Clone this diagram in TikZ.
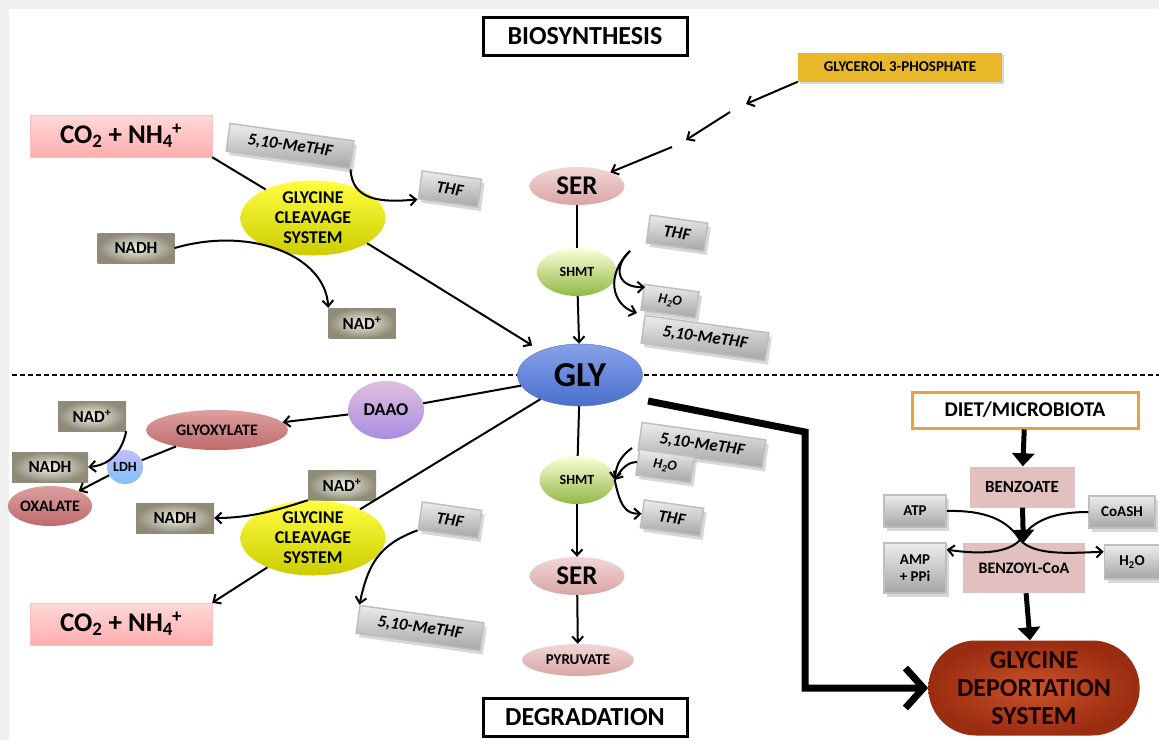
\documentclass[tikz,border=0pt]{standalone}
\usepackage{amsmath}
\usepackage{fontspec}
\setmainfont{Carlito}
\usetikzlibrary{arrows.meta, shapes.geometric, shapes.misc, shadows}
\newcommand\fsz[2]{\fontsize{#1}{#2}\selectfont}
\definecolor{olvIn}{HTML}{F2F1E4}
\definecolor{olvOut}{HTML}{8E8C78}
\definecolor{goldfill}{HTML}{E8B82A}
\definecolor{dietline}{HTML}{E9A23B}
\definecolor{benzfill}{HTML}{E2C0C0}
\definecolor{serTop}{HTML}{F2D6D6}
\definecolor{serBot}{HTML}{D9A5A5}
\definecolor{glyTop}{HTML}{86A2E8}
\definecolor{glyBot}{HTML}{4A6FCC}
\definecolor{redTop}{HTML}{DDA0A0}
\definecolor{redBot}{HTML}{BF6A6A}
\definecolor{gdsIn}{HTML}{C9522A}
\definecolor{gdsOut}{HTML}{9A2C10}

\begin{document}
\begin{tikzpicture}[x=1pt, y=-1pt,
  >={Straight Barb[length=6pt,width=11pt]},
  link/.style={line width=2pt},
  fat/.style={line width=5pt, -{Triangle[length=13pt,width=22pt]}},
  titlebox/.style={draw, line width=3pt, fill=white, minimum width=204pt,
    minimum height=38pt, font=\bfseries\fsz{26}{30}},
  greybox/.style={draw=gray!50, line width=1.5pt, top color=gray!15,
    bottom color=gray!70, minimum height=28pt, inner sep=2pt,
    drop shadow={opacity=.3, shadow xshift=3pt, shadow yshift=-4pt},
    font=\bfseries\itshape\fsz{17}{19}},
  olivebox/.style={inner color=olvIn, outer color=olvOut, minimum height=30pt,
    font=\bfseries\fsz{17}{19}},
  pinkbox/.style={draw=red!25, top color=red!15, bottom color=red!32,
    minimum width=182pt, minimum height=42pt, font=\bfseries\fsz{27}{30}},
  blob/.style 2 args={ellipse, inner sep=0pt, top color=#1, bottom color=#2,
    font=\bfseries},
]
\useasboundingbox (0,0) rectangle (1159,740);
\fill[gray!12] (0,0) rectangle (1159,740);
\fill[white] (9,9) rectangle (1159,740);
\draw[line width=1.3pt, dash pattern=on 5pt off 3pt] (12,375) -- (1159,375);

% biosynthesis
\node[titlebox] at(585,36)(bio){BIOSYNTHESIS};
\node[fill=goldfill, minimum width=204pt, minimum height=29pt,
  font=\bfseries\fsz{15}{17}, drop shadow={opacity=.3}] at(900,67)(g3p){GLYCEROL 3-PHOSPHATE};
\node[blob={serTop}{serBot}, minimum width=95pt, minimum height=38pt,
  font=\bfseries\fsz{27}{30}] at(577,186)(ser1){SER};
\node[blob={green!10!yellow!15}{green!35!yellow!45!gray}, minimum width=80pt,
  minimum height=48pt, font=\bfseries\fsz{14}{16}] at(577,272)(shmt1){SHMT};
\node[greybox, minimum width=58pt, rotate=-8] at(677,233)(thf2){THF};
\node[greybox, minimum width=55pt, minimum height=26pt, rotate=-8,
  font=\bfseries\itshape\fsz{14}{16}] at(670,301)(h2o1){H\textsubscript{2}O};
\node[greybox, minimum width=125pt, rotate=-8] at(705,338)(meth2){5,10-MeTHF};

\node[pinkbox] at(121,136)(co2a){CO\textsubscript{2} + NH\textsubscript{4}\kern-1pt\textsuperscript{+}};
\node[greybox, minimum width=125pt, rotate=-8] at(290,146)(meth1){5,10-MeTHF};
\node[greybox, minimum width=60pt, rotate=-8] at(450,189)(thf1){THF};
\node[blob={yellow!75!white}{yellow!80!black}, minimum width=145pt,
  minimum height=75pt, align=center, font=\bfseries\fsz{18}{20}] at(313,218)(gcs1)
  {GLYCINE\\CLEAVAGE\\SYSTEM};
\node[olivebox, minimum width=77pt] at(136,248)(nadh1){NADH};
\node[olivebox, minimum width=67pt] at(362,323)(nadp1){NAD\textsuperscript{+}};

% glycine
\node[blob={glyTop}{glyBot}, minimum width=125pt, minimum height=62pt,
  draw=glyBot, font=\bfseries\fsz{35}{38}] at(580,375)(gly){GLY};

% degradation
\node[blob={violet!25}{violet!50!blue!45}, minimum width=76pt, minimum height=58pt,
  font=\bfseries\fsz{18}{20}] at(386,410)(daao){DAAO};
\node[blob={redTop}{redBot}, minimum width=142pt, minimum height=40pt,
  font=\bfseries\fsz{16}{18}] at(217,430)(glyox){GLYOXYLATE};
\node[olivebox, minimum width=68pt] at(92,416)(nadp2){NAD\textsuperscript{+}};
\node[olivebox, minimum width=76pt] at(50,467)(nadh2){NADH};
\node[blob={blue!25}{blue!50!cyan!50}, minimum width=36pt, minimum height=34pt,
  font=\bfseries\fsz{14}{16}] at(125,467)(ldh){LDH};
\node[blob={redTop}{redBot}, minimum width=76pt, minimum height=40pt,
  font=\bfseries\fsz{16}{18}] at(50,506)(oxal){OXALATE};
\node[olivebox, minimum width=78pt] at(175,518)(nadh3){NADH};
\node[olivebox, minimum width=68pt] at(342,485)(nadp3){NAD\textsuperscript{+}};
\node[blob={yellow!75!white}{yellow!80!black}, minimum width=145pt,
  minimum height=75pt, align=center, font=\bfseries\fsz{18}{20}] at(313,538)(gcs2)
  {GLYCINE\\CLEAVAGE\\SYSTEM};
\node[greybox, minimum width=60pt, rotate=-8] at(450,520)(thf3){THF};
\node[greybox, minimum width=125pt, rotate=-8] at(420,628)(meth3){5,10-MeTHF};
\node[pinkbox] at(121,624)(co2b){CO\textsubscript{2} + NH\textsubscript{4}\kern-1pt\textsuperscript{+}};

\node[blob={green!10!yellow!15}{green!35!yellow!45!gray}, minimum width=75pt,
  minimum height=48pt, font=\bfseries\fsz{14}{16}] at(577,480)(shmt2){SHMT};
\node[greybox, minimum width=125pt, rotate=-8] at(702,445)(meth4){5,10-MeTHF};
\node[greybox, minimum width=55pt, minimum height=26pt, rotate=-8,
  font=\bfseries\itshape\fsz{14}{16}] at(665,466)(h2o2){H\textsubscript{2}O};
\node[greybox, minimum width=60pt, rotate=-8] at(672,518)(thf4){THF};
\node[blob={serTop}{serBot}, minimum width=95pt, minimum height=38pt,
  font=\bfseries\fsz{27}{30}] at(577,576)(ser2){SER};
\node[blob={serTop}{serBot}, minimum width=112pt, minimum height=32pt,
  font=\bfseries\fsz{15}{17}] at(578,660)(pyr){PYRUVATE};
\node[titlebox] at(585,717)(deg){DEGRADATION};

% deportation
\node[draw=dietline, line width=3pt, fill=white, minimum width=226pt,
  minimum height=36pt, font=\bfseries\fsz{21}{23}] at(1025,410)(diet){DIET/MICROBIOTA};
\node[fill=benzfill, minimum width=105pt, minimum height=41pt,
  font=\bfseries\fsz{17}{19}] at(1022,487)(benz){BENZOATE};
\node[fill=benzfill, minimum width=122pt, minimum height=50pt,
  font=\bfseries\fsz{16}{18}] at(1024,568)(bzcoa){BENZOYL-CoA};
\node[greybox, minimum width=62pt, minimum height=32pt,
  font=\bfseries\fsz{15}{17}] at(915,511)(atp){ATP};
\node[greybox, minimum width=66pt, minimum height=32pt,
  font=\bfseries\fsz{15}{17}] at(1122,512)(coash){CoASH};
\node[greybox, minimum width=62pt, minimum height=50pt, align=center,
  font=\bfseries\fsz{15}{17}] at(915,568)(amp){AMP\\+ PPi};
\node[greybox, minimum width=55pt, minimum height=34pt,
  font=\bfseries\fsz{15}{17}] at(1132,562)(h2o3){H\textsubscript{2}O};
\node[rounded rectangle, inner color=gdsIn, outer color=gdsOut,
  minimum width=218pt, minimum height=95pt, align=center,
  font=\bfseries\fsz{26}{28}, text=black!90!red] at(1034,688)(gds)
  {GLYCINE\\DEPORTATION\\SYSTEM};

% free ends
\coordinate (gp1) at (746,104);
\coordinate (gp2) at (730,112);
\coordinate (gp3) at (686,140);
\coordinate (gp4) at (672,147);
\coordinate (sh1) at (630,251);
\coordinate (sh1a) at (645,287);
\coordinate (sh1b) at (637,313);
\coordinate (sh2) at (632,448);
\coordinate (gstart) at (648,401);
\coordinate (cross) at (1020,540);

% connectors
\path[->, link]
    (g3p.south west) edge (gp1)
    (gp2) edge (gp3)
    (gp4) edge (ser1)
    (shmt1) edge (gly)
    (gcs1.-25) edge[shorten >=10pt] (gly)
    (daao) edge (glyox)
    (ldh) edge (oxal)
    (gcs2) edge (co2b.north east)
    (shmt2) edge (ser2)
    (ser2) edge (pyr);
\path[link]
    (ser1) edge (shmt1)
    (co2a.south east) edge (gcs1)
    (gly) edge (daao)
    (gly) edge (gcs2)
    (glyox) edge (ldh)
    (gly) edge (shmt2);
\draw[->, link] (meth1.south east) .. controls (352,200) and (380,203) .. (thf1.south west);
\draw[->, link] (nadh1.east) .. controls (250,226) and (325,255) .. (nadp1.north west);
\draw[->, link] (sh1) .. controls (612,268) and (618,288) .. (sh1a);
\draw[->, link] (sh1) .. controls (605,275) and (612,305) .. (sh1b);
\draw[->, link] (nadp2.south east) .. controls (122,452) and (110,465) .. (nadh2.east);
\draw[->, link] (nadp3.south west) .. controls (278,510) and (250,518) .. (nadh3.east);
\draw[->, link] (thf3.south west) .. controls (378,545) and (368,565) .. (meth3.north west);
\draw[->, link] (sh2) .. controls (618,458) and (616,468) .. (shmt2.east);
\draw[->, link] (h2o2.west) .. controls (628,462) and (622,468) .. (shmt2.east);
\draw[->, link] (shmt2.east) .. controls (620,505) and (625,514) .. (thf4.west);

\draw[line width=7pt, -{Straight Barb[length=18pt,width=40pt]}]
    (gstart) -- (805,432) |- (gds.west);
\path[fat] (diet) edge (benz) (benz) edge (bzcoa) (bzcoa) edge (gds);
\draw[->, link] (atp.east) .. controls (985,510) and (1008,520) .. (cross)
    .. controls (1035,556) and (1070,553) .. (h2o3.160);
\draw[->, link] (coash.west) .. controls (1055,512) and (1032,520) .. (cross)
    .. controls (1005,556) and (970,553) .. (amp.30);
\end{tikzpicture}
\end{document}
